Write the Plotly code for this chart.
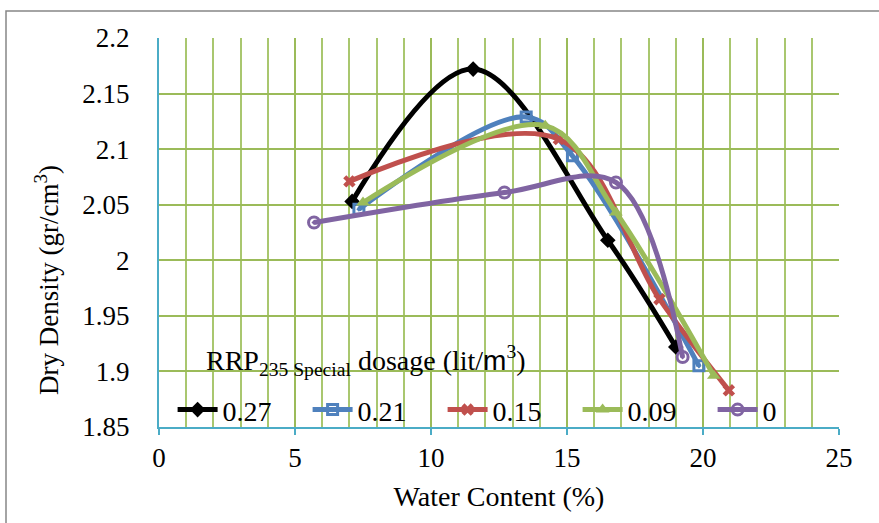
import plotly.graph_objects as go

# Data
dosages = ["0.27", "0.21", "0.15", "0.09", "0"]
x_027 = [7.1, 11.55, 16.5, 19.0]
y_027 = [2.053, 2.172, 2.018, 1.922]
x_021 = [7.35, 13.5, 15.2, 19.85]
y_021 = [2.046, 2.129, 2.094, 1.905]
x_015 = [7.0, 14.7, 18.4, 20.95]
y_015 = [2.071, 2.109, 1.965, 1.883]
x_009 = [7.5, 14.2, 16.8, 20.4]
y_009 = [2.052, 2.121, 2.043, 1.896]
x_000 = [5.7, 12.7, 16.8, 19.25]
y_000 = [2.034, 2.061, 2.070, 1.913]

x_ticks = [0, 5, 10, 15, 20, 25]
y_ticks = [1.85, 1.9, 1.95, 2.0, 2.05, 2.1, 2.15, 2.2]
y_tick_text = ["1.85", "1.9", "1.95", "2", "2.05", "2.1", "2.15", "2.2"]

series = [
    (x_027, y_027, "#000000", "diamond", 12, None),
    (x_021, y_021, "#4F81BD", "square-open-dot", 10, 3),
    (x_015, y_015, "#C0504D", "x", 11, None),
    (x_009, y_009, "#9BBB59", "triangle-up", 12, None),
    (x_000, y_000, "#8064A2", "circle-open-dot", 11, 3),
]

FONT = "Liberation Serif, Times New Roman, serif"

fig = go.Figure()
for name, (xs, ys, col, sym, sz, lw) in zip(dosages, series):
    marker = dict(symbol=sym, size=sz, color=col)
    if lw:
        marker["line"] = dict(color=col, width=lw)
    fig.add_trace(go.Scatter(
        x=xs, y=ys, name=name, mode="lines+markers",
        line=dict(color=col, width=5, shape="spline", smoothing=1),
        marker=marker,
    ))

fig.update_layout(
    width=879, height=523,
    margin=dict(l=159, r=40, t=38, b=96),
    paper_bgcolor="white", plot_bgcolor="white",
    font=dict(family=FONT, size=27, color="black"),
    showlegend=True,
    legend=dict(
        orientation="h", x=0.02, y=0.044, xanchor="left", yanchor="middle",
        bgcolor="rgba(0,0,0,0)", font=dict(family=FONT, size=28),
        entrywidth=80, entrywidthmode="pixels", itemwidth=40,
        tracegroupgap=0,
    ),
    xaxis=dict(
        range=[0, 25], tickvals=x_ticks, ticktext=[str(v) for v in x_ticks],
        showgrid=True, gridcolor="#9BBB59", gridwidth=1.5,
        minor=dict(dtick=1, showgrid=True, gridcolor="#A9C76F", gridwidth=1.5),
        showline=True, linecolor="#4BACC6", linewidth=2,
        ticks="outside", ticklen=6, tickcolor="#4BACC6", tickwidth=2,
        zeroline=False,
        title=dict(text="Water Content (%)", font=dict(family=FONT, size=28), standoff=14),
        tickfont=dict(family=FONT, size=27),
    ),
    yaxis=dict(
        range=[1.85, 2.2], tickvals=y_ticks, ticktext=y_tick_text,
        showgrid=True, gridcolor="#9BBB59", gridwidth=2,
        showline=True, linecolor="#4BACC6", linewidth=2,
        ticks="", zeroline=False, ticklabelstandoff=22,
        tickfont=dict(family=FONT, size=27),
    ),
    annotations=[
        dict(
            text="RRP<sub>235 Special</sub> dosage (lit/<span style='font-family:Liberation Sans, Arial, sans-serif'>m</span><sup>3</sup>)",
            xref="paper", yref="paper", x=0.066, y=0.172, xanchor="left", yanchor="middle",
            showarrow=False, font=dict(family=FONT, size=28, color="black"),
        ),
        dict(
            text="Dry Density (gr/cm<sup>3</sup>)",
            xref="paper", yref="paper", x=(47 - 159) / 680, y=(427 - 280) / 389,
            xanchor="center", yanchor="middle", textangle=-90,
            showarrow=False, font=dict(family=FONT, size=27, color="black"),
        ),
    ],
    shapes=[dict(
        type="rect", xref="paper", yref="paper",
        x0=-0.225, x1=1.09, y0=-0.3, y1=1.0694,
        line=dict(color="#868686", width=1.5), fillcolor="rgba(0,0,0,0)", layer="below",
    )],
)

fig.write_html("out.html")
